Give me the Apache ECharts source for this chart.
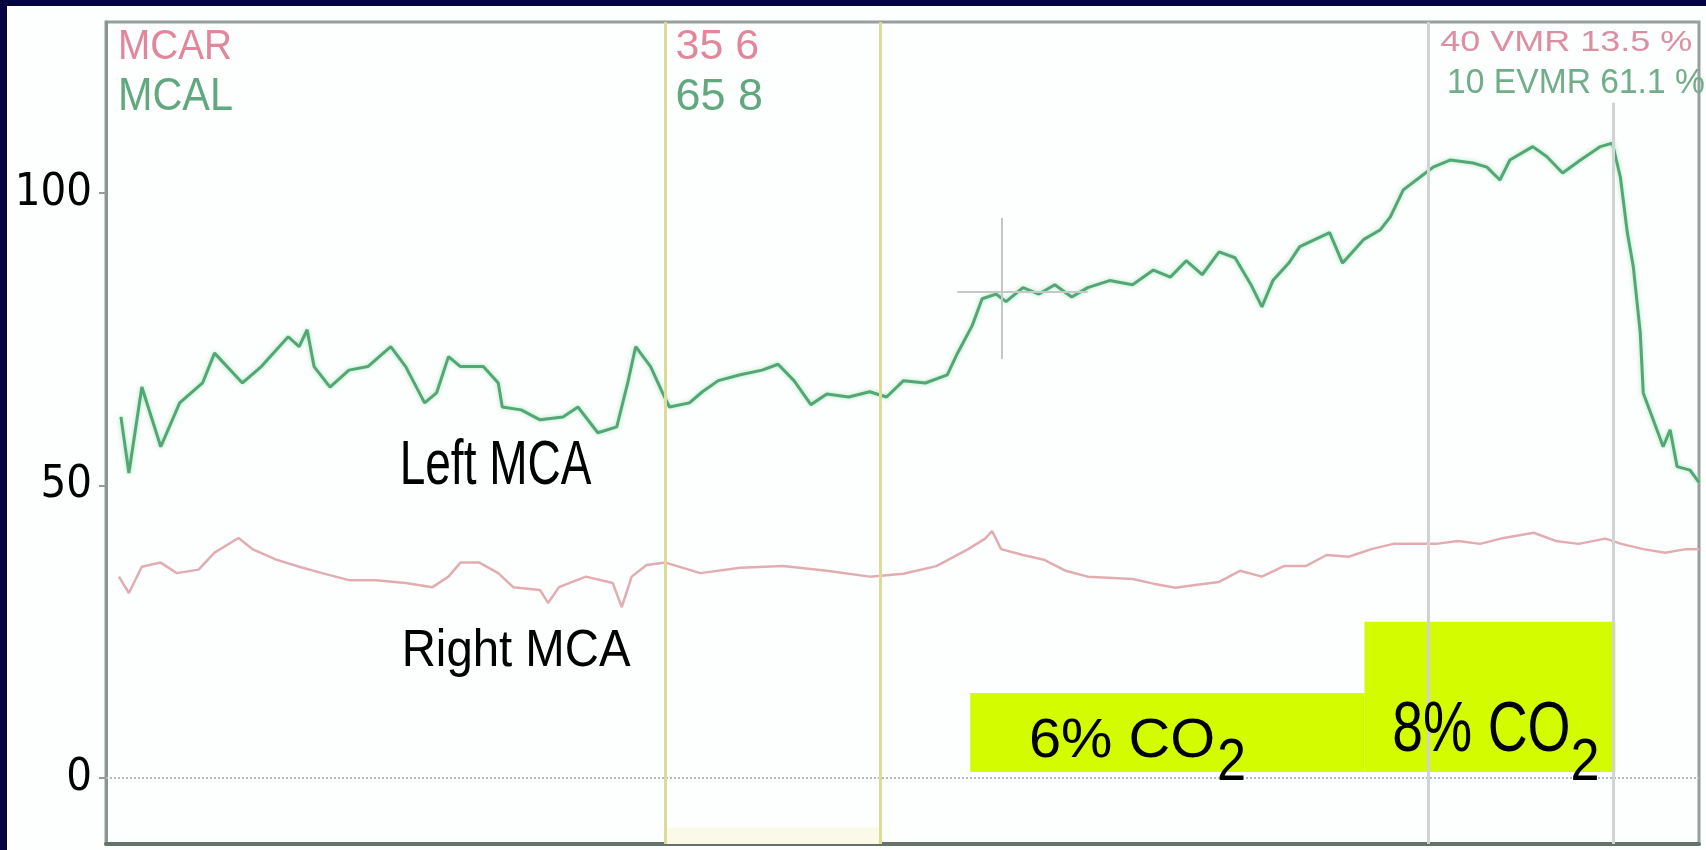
<!DOCTYPE html>
<html><head><meta charset="utf-8">
<script src="https://cdn.jsdelivr.net/npm/echarts@6/dist/echarts.min.js"></script>
<style>html,body{margin:0;padding:0;background:#04043f;overflow:hidden}#c{width:1706px;height:850px}</style>
</head><body><div id="c"></div>
<script>
// ---- data (time in s, velocity in cm/s) ----
const greenT = [1.5,2.3,3.6,5.5,7.4,9.7,10.9,13.7,15.6,18.3,19.4,20.2,20.9,22.5,24.4,26.3,28.6,30.1,32.0,33.2,34.4,35.6,37.9,39.4,39.8,41.7,43.6,45.9,47.4,49.4,51.3,52.4,53.2,54.7,55.9,56.6,58.6,59.9,61.5,63.7,65.9,67.5,69.1,70.8,72.4,74.6,76.7,78.4,80.1,82.3,84.5,85.5,87.0,88.0,89.4,90.4,92.1,93.7,95.3,97.0,98.6,100.8,103.1,105.2,106.9,108.5,110.1,111.8,113.4,115.0,116.1,117.2,118.8,119.9,122.9,124.2,126.3,128.0,129.0,130.3,132.0,133.3,135.0,137.3,138.7,140.0,141.0,143.3,144.7,146.3,148.1,150.1,151.3,152.1,152.8,153.4,154.1,154.4,155.4,156.4,157.1,157.8,159.1,160.0];
const greenV = [61.7,52.1,66.8,56.6,64.1,67.5,72.6,67.5,70.3,75.4,73.7,76.6,70.3,66.8,69.7,70.3,73.7,70.3,64.1,65.8,72.0,70.3,70.3,67.5,63.4,62.9,61.2,61.7,63.4,59.0,60.0,67.5,73.7,70.3,65.8,63.4,64.1,66.0,67.9,68.9,69.7,70.7,67.9,63.8,65.6,65.1,66.0,65.1,67.9,67.5,68.9,72.5,77.3,81.9,82.7,81.4,83.8,82.7,84.3,82.2,83.8,85.0,84.3,86.8,85.6,88.4,86.0,89.9,88.9,84.3,80.5,85.0,88.0,90.8,93.2,88.0,92.0,93.7,95.9,100.5,102.7,104.4,105.6,105.1,104.4,102.2,105.6,107.9,106.2,103.4,105.6,107.9,108.5,102.7,93.2,87.4,76.1,65.8,61.2,56.6,59.5,53.2,52.6,50.5];
const pinkT = [1.3,2.3,3.6,5.5,7.1,9.3,10.9,13.3,14.8,17.1,19.4,21.7,24.4,27.1,30.1,32.8,34.4,35.6,37.5,39.4,40.9,43.6,44.4,45.5,48.2,50.9,51.8,52.8,54.3,56.2,59.7,63.7,68.0,72.4,76.7,80.1,83.4,86.6,88.3,89.0,89.9,92.1,94.2,96.4,98.6,103.1,105.2,107.4,109.6,111.8,113.9,116.1,118.3,120.5,122.6,124.8,127.1,129.3,133.6,135.8,138.0,140.1,143.4,145.6,147.9,150.6,152.2,154.4,156.6,158.7,160.0];
const pinkV = [34.4,31.6,36.1,36.8,35.0,35.6,38.5,41.0,39.0,37.3,36.1,35.0,33.8,33.8,33.3,32.6,34.4,36.8,36.8,35.0,32.6,32.1,29.9,32.6,34.4,33.3,29.2,34.4,36.4,36.8,35.0,35.9,36.2,35.4,34.4,34.9,36.2,39.1,40.9,42.2,39.1,38.1,37.3,35.4,34.4,34.0,33.2,32.5,33.0,33.5,35.4,34.4,36.2,36.2,38.1,37.8,39.1,40.0,40.0,40.5,40.0,40.9,41.9,40.5,40.0,40.9,40.0,39.1,38.5,39.1,39.1];
const yTicks = [0, 50, 100];
const markerT = [56.2, 77.8];          // yellow event markers
const cursorT = [132.8, 151.4];        // gray cursors
const co2Labels = ['6% CO', '8% CO'];
const co2Sub = '2';
const co2Start = [86.8, 126.4];
const co2End = [126.4, 151.6];
const co2Top = [14.5, 26.7];
const co2Base = 1.0;
const traceLabels = ['Left MCA', 'Right MCA'];
const headLeft = ['MCAR', 'MCAL'];
const headMid = ['35 6', '65 8'];
const headRight = ['40 VMR 13.5 %', '10 EVMR 61.1 %'];

// ---- chart ----
const Y_MIN = -11.3, Y_MAX = 129.2, X_MIN = 0, X_MAX = 160;
const COND = "'DejaVu Sans Condensed','Liberation Sans Narrow',sans-serif";
const REG = "'Liberation Sans',Arial,sans-serif";
const PINK = '#e2879b', GREEN = '#62a87f';

function zip(a, b) { return a.map((x, i) => [x, b[i]]); }

const chart = echarts.init(document.getElementById('c'), null, { renderer: 'canvas' });
const panel = { id: 'panel', type: 'rect', z: -100, silent: true, shape: { x: 7, y: 6, width: 1699, height: 844 }, style: { fill: '#fdfefe' } };
chart.setOption({
  backgroundColor: '#04043f',
  animation: false,
  graphic: [panel],
  grid: { left: 106, right: 7, top: 22, bottom: 6, show: true, borderColor: '#95a09d', borderWidth: 3 },
  xAxis: { type: 'value', min: X_MIN, max: X_MAX,
    axisLine: { show: true, onZero: false, lineStyle: { color: '#62746a', width: 4 } },
    axisTick: { show: false }, axisLabel: { show: false }, splitLine: { show: false } },
  yAxis: { type: 'value', min: Y_MIN, max: Y_MAX,
    axisLine: { show: true, onZero: false, lineStyle: { color: '#8b9693', width: 3 } },
    axisTick: { show: true, inside: false, length: 7, customValues: yTicks, lineStyle: { color: '#9a9a9a', width: 2 } },
    axisLabel: { customValues: yTicks, color: '#000', fontFamily: COND, fontSize: 45, margin: 14 },
    splitLine: { show: false } },
  series: [
    { name: 'markers', type: 'line', data: [], z: 2, silent: true,
      markLine: { symbol: ['none', 'none'], silent: true, label: { show: false }, animation: false,
        data: [
          { yAxis: 0, lineStyle: { type: 'dotted', color: '#b5baba', width: 2 } },
          { xAxis: markerT[0], lineStyle: { type: 'solid', color: '#dcdc98', width: 3 } },
          { xAxis: markerT[1], lineStyle: { type: 'solid', color: '#dcdc98', width: 3 } },
          { xAxis: cursorT[0], lineStyle: { type: 'solid', color: '#cfd3d3', width: 3 } },
          [{ coord: [cursorT[1], 115.4], lineStyle: { type: 'solid', color: '#cfd3d3', width: 3 } }, { coord: [cursorT[1], Y_MIN] }],
          [{ coord: [90.0, 95.7], lineStyle: { type: 'solid', color: '#c4c8c8', width: 2 } }, { coord: [90.0, 71.6] }],
          [{ coord: [85.5, 83.1], lineStyle: { type: 'solid', color: '#c4c8c8', width: 2 } }, { coord: [98.6, 83.1] }]
        ] },
      markArea: { silent: true, data: [[{ coord: [markerT[0], Y_MIN], itemStyle: { color: '#fbfae8' } }, { coord: [markerT[1], -8.5] }]] }
    },
    { name: 'Right MCA', type: 'line', data: zip(pinkT, pinkV), showSymbol: false, z: 3, silent: true,
      lineStyle: { color: '#e2adb0', width: 2.5 } },
    { name: 'Left MCA', type: 'line', data: zip(greenT, greenV), showSymbol: false, z: 3, silent: true,
      lineStyle: { color: '#54a674', width: 3, shadowColor: 'rgba(140,225,170,0.8)', shadowBlur: 4 } },
    { name: 'CO2 steps', type: 'line', data: [], z: 5, silent: true,
      markArea: { silent: true, data: [
        [{ coord: [co2Start[0], co2Base], itemStyle: { color: '#d4fc00' } }, { coord: [co2End[0], co2Top[0]] }],
        [{ coord: [co2Start[1], co2Base], itemStyle: { color: '#d4fc00' } }, { coord: [co2End[1], co2Top[1]] }]
      ] } }
  ]
});

// text annotations anchored in data coordinates (converted through the chart's own scales)
const notes = [
  { t: 29.5, v: 53.2, text: traceLabels[0], size: 63, sx: 0.73, color: '#000' },
  { t: 29.7, v: 21.6, text: traceLabels[1], size: 52, sx: 0.91, color: '#000' },
  { t: 92.7, v: 6.1, text: co2Labels[0], size: 55, sx: 1.05, color: '#000' },
  { t: 111.6, v: 2.5, text: co2Sub, size: 60, sx: 0.87, color: '#000' },
  { t: 129.2, v: 7.9, text: co2Labels[1], size: 70, sx: 0.79, color: '#000' },
  { t: 147.1, v: 2.5, text: co2Sub, size: 60, sx: 0.87, color: '#000' },
  { t: 1.2, v: 124.9, text: headLeft[0], size: 43, sx: 0.9, color: PINK },
  { t: 1.2, v: 116.3, text: headLeft[1], size: 46, sx: 0.9, color: GREEN },
  { t: 57.2, v: 124.9, text: headMid[0], size: 43, sx: 1.0, color: PINK },
  { t: 57.2, v: 116.3, text: headMid[1], size: 45, sx: 1.0, color: GREEN },
  { t: 134.0, v: 125.7, text: headRight[0], size: 30, sx: 1.2, color: '#dc8fa3' },
  { t: 134.7, v: 118.8, text: headRight[1], size: 35, sx: 0.96, color: '#6fae88' }
];
const texts = notes.map((n, i) => {
  const p = chart.convertToPixel({ gridIndex: 0 }, [n.t, n.v]);
  return { id: 'note' + i, type: 'text', x: p[0], y: p[1], scaleX: n.sx, z: 50, silent: true,
    style: { text: n.text, fill: n.color, font: n.size + 'px ' + REG, align: 'left', verticalAlign: 'middle' } };
});
chart.setOption({ graphic: [panel].concat(texts) });
</script></body></html>
